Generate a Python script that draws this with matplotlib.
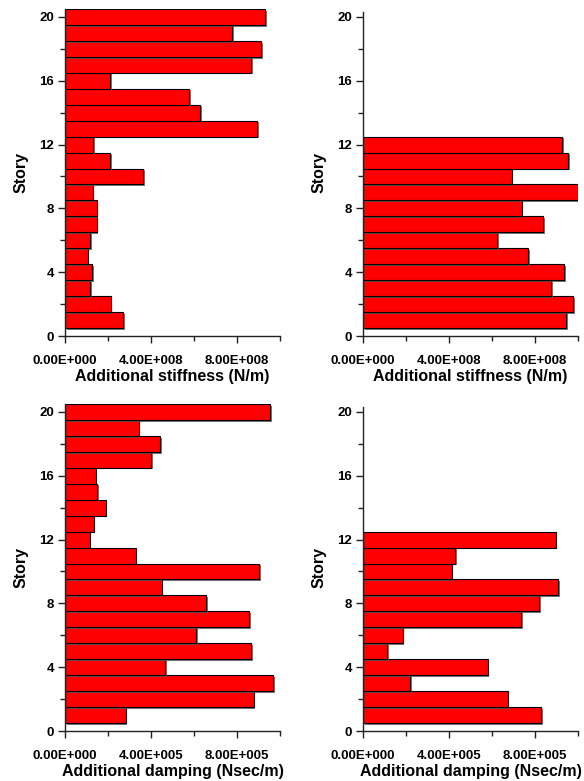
import numpy as np
import matplotlib.pyplot as plt
import matplotlib.patheffects as pe
from matplotlib.ticker import MultipleLocator

plt.rcParams['font.family'] = ['Liberation Sans', 'DejaVu Sans']
plt.rcParams['font.weight'] = 'bold'

# story numbers
stories_20 = np.arange(1, 21)
stories_12 = np.arange(1, 13)

# additional stiffness (N/m), story 1 first
stiff_a = [2.69e8, 2.13e8, 1.17e8, 1.27e8, 1.05e8, 1.16e8, 1.48e8, 1.47e8, 1.28e8, 3.64e8,
           2.10e8, 1.31e8, 8.93e8, 6.29e8, 5.78e8, 2.10e8, 8.65e8, 9.11e8, 7.77e8, 9.30e8]
stiff_b = [9.44e8, 9.77e8, 8.75e8, 9.37e8, 7.68e8, 6.24e8, 8.39e8, 7.38e8, 9.98e8, 6.92e8,
           9.54e8, 9.26e8]

# additional damping (Nsec/m), story 1 first
damp_a = [2.82e5, 8.78e5, 9.69e5, 4.67e5, 8.67e5, 6.11e5, 8.58e5, 6.58e5, 4.49e5, 9.02e5,
          3.28e5, 1.15e5, 1.33e5, 1.89e5, 1.50e5, 1.42e5, 4.02e5, 4.44e5, 3.42e5, 9.53e5]
damp_b = [8.29e5, 6.73e5, 2.20e5, 5.80e5, 1.12e5, 1.84e5, 7.36e5, 8.20e5, 9.08e5, 4.12e5,
          4.29e5, 8.96e5]

panels = [
    (stories_20, stiff_a, 1e8, 'E+008', 'Additional stiffness (N/m)'),
    (stories_12, stiff_b, 1e8, 'E+008', 'Additional stiffness (N/m)'),
    (stories_20, damp_a, 1e5, 'E+005', 'Additional damping (Nsec/m)'),
    (stories_12, damp_b, 1e5, 'E+005', 'Additional damping (Nsec/m)'),
]


def sci_label(v, unit, suffix):
    if abs(v) < 1e-9 * unit:
        return '0.00E+000'
    return '%.2f%s' % (v / unit, suffix)


fig = plt.figure(figsize=(5.84, 7.81), dpi=100)
rects = [
    [65 / 584, 1 - 336 / 781, 215 / 584, 327 / 781],
    [363 / 584, 1 - 336 / 781, 215 / 584, 327 / 781],
    [65 / 584, 1 - 731 / 781, 215 / 584, 327 / 781],
    [363 / 584, 1 - 731 / 781, 215 / 584, 327 / 781],
]

for rect, (y, vals, unit, suffix, xlabel) in zip(rects, panels):
    ax = fig.add_axes(rect)
    bars = ax.barh(y, vals, height=1.0, color='#ff0000', edgecolor='black', linewidth=0.8)
    for b in bars:
        b.set_path_effects([pe.SimplePatchShadow(offset=(1.2, -1.2), shadow_rgbFace='#555555', alpha=0.8),
                            pe.Normal()])
    ax.set_xlim(0, 10 * unit)
    ax.set_ylim(0, 20.5)
    for s in ['top', 'right']:
        ax.spines[s].set_visible(False)
    for s in ['left', 'bottom']:
        ax.spines[s].set_linewidth(1.0)
        ax.spines[s].set_color('#222222')
    ax.spines['left'].set_bounds(0, 20.5 if len(y) == 20 else 20.3)
    ax.yaxis.set_major_locator(MultipleLocator(4))
    ax.yaxis.set_minor_locator(MultipleLocator(2))
    ax.xaxis.set_major_locator(MultipleLocator(4 * unit))
    ax.xaxis.set_minor_locator(MultipleLocator(2 * unit))
    ax.xaxis.set_major_formatter(lambda v, p, u=unit, s=suffix: sci_label(v, u, s))
    ax.tick_params(which='major', direction='out', length=5, width=1.0, color='#222222')
    ax.tick_params(which='minor', direction='out', length=3.3, width=1.0, color='#222222')
    ax.tick_params(axis='both', labelsize=9.5)
    ax.tick_params(axis='x', pad=9)
    ax.tick_params(axis='y', pad=3)
    for lab in ax.get_xticklabels() + ax.get_yticklabels():
        lab.set_fontweight('bold')
    ax.set_xlabel(xlabel, fontsize=11.5, fontweight='bold', labelpad=1)
    ax.set_ylabel('Story', fontsize=11.5, fontweight='bold', labelpad=8)

fig.savefig('out.png', dpi=100)
